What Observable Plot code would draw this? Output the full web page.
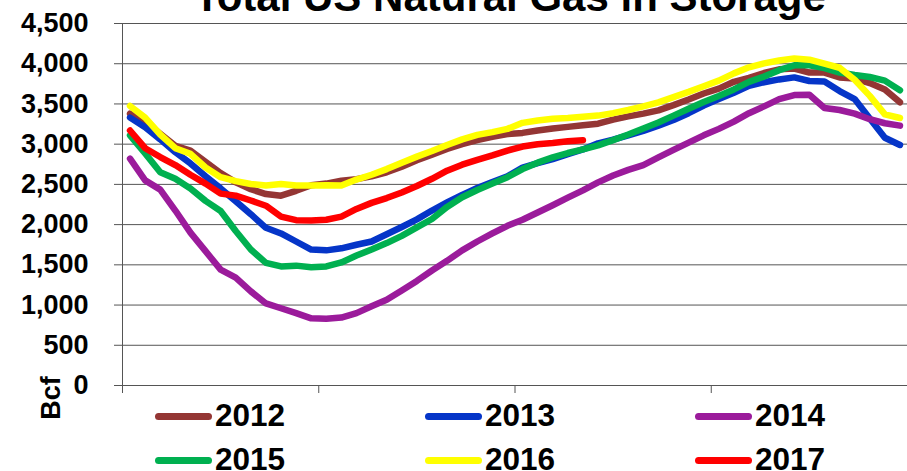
<!DOCTYPE html>
<html><head><meta charset="utf-8">
<script src="https://cdn.jsdelivr.net/npm/d3@7"></script>
<script src="https://cdn.jsdelivr.net/npm/@observablehq/plot@0.6"></script>
<style>
body{margin:0;background:#fff;font-family:"Liberation Sans",Arial,sans-serif;}
#wrap{position:relative;width:907px;height:471px;overflow:hidden;background:#fff;}
#chart{position:absolute;left:0;top:0;}
#title{position:absolute;left:0;width:1020px;top:-23.6px;text-align:center;font-weight:bold;font-size:42px;line-height:42px;white-space:nowrap;z-index:2;color:#000;}
#ylab{position:absolute;left:51px;top:398px;transform:translate(-50%,-50%) rotate(-90deg);font-weight:bold;font-size:27px;line-height:27px;white-space:nowrap;color:#000;}
.sw{position:absolute;width:57px;height:7px;border-radius:4px;}
.lt{position:absolute;font-weight:bold;font-size:31.5px;line-height:31.5px;white-space:nowrap;color:#000;}
</style>
</head><body>
<div id="wrap">
  <div id="chart"></div>
  <div id="title">Total US Natural Gas in Storage</div>
  <div id="ylab">Bcf</div>
  <div id="legend"></div>
</div>
<script>
// Series names and colors
const years = ["2012", "2013", "2014", "2015", "2016", "2017"];
const colors = ["#943634", "#0535C8", "#9B1B9B", "#00B050", "#FFFF00", "#FF0000"];

// Weekly storage values (Bcf)
const s2012 = [3380,3280,3130,2980,2920,2780,2640,2525,2440,2380,2360,2420,2490,2510,2545,2565,2600,2650,2720,2800,2870,2940,3000,3050,3090,3125,3140,3170,3195,3215,3235,3255,3305,3345,3380,3420,3485,3555,3630,3690,3775,3825,3885,3930,3940,3890,3890,3830,3815,3760,3680,3520];
const s2013 = [3330,3210,3060,2900,2760,2600,2450,2290,2130,1960,1890,1790,1690,1680,1705,1750,1790,1880,1970,2065,2175,2275,2370,2455,2530,2600,2710,2765,2815,2875,2935,3010,3055,3110,3165,3230,3300,3385,3480,3560,3640,3725,3770,3805,3830,3785,3780,3660,3560,3320,3080,2990];
const s2014 = [2820,2550,2435,2175,1900,1670,1440,1340,1170,1020,960,900,835,830,845,900,985,1065,1180,1300,1430,1550,1680,1790,1890,1985,2060,2150,2240,2335,2425,2525,2610,2680,2740,2835,2930,3020,3110,3190,3280,3385,3470,3560,3610,3615,3450,3425,3380,3310,3260,3230];
const s2015 = [3110,2885,2650,2570,2450,2295,2170,1920,1690,1525,1480,1490,1470,1480,1530,1615,1690,1770,1860,1965,2070,2220,2340,2430,2510,2590,2690,2770,2835,2890,2935,2985,3050,3120,3195,3270,3355,3440,3525,3600,3680,3775,3840,3920,3980,3980,3945,3890,3860,3835,3790,3670];
const s2016 = [3475,3330,3120,2950,2880,2710,2590,2540,2505,2485,2505,2485,2485,2490,2485,2560,2620,2690,2770,2845,2915,2990,3060,3115,3150,3190,3265,3295,3315,3325,3340,3355,3385,3425,3470,3520,3585,3650,3720,3790,3880,3955,4005,4040,4065,4050,4000,3950,3800,3600,3370,3325];
const s2017 = [3170,2950,2840,2740,2620,2510,2385,2360,2300,2235,2100,2055,2050,2060,2100,2195,2270,2330,2400,2480,2570,2670,2745,2805,2860,2920,2970,3000,3015,3035,3050];

// Axis ticks
const yTicks = [0, 500, 1000, 1500, 2000, 2500, 3000, 3500, 4000, 4500];
const xTicks = [0.5, 13.5, 26.5, 39.5, 52.5];

const seriesValues = [s2012, s2013, s2014, s2015, s2016, s2017];
const rows = [];
years.forEach((yr, i) => seriesValues[i].forEach((v, k) => rows.push({year: yr, week: k + 1, value: v})));

const axisColor = "#555";
const chart = Plot.plot({
  width: 907, height: 395,
  marginLeft: 122, marginRight: 0, marginTop: 23, marginBottom: 10,
  style: {background: "transparent", fontFamily: "'Liberation Sans', Arial, sans-serif", color: "#000", overflow: "visible"},
  x: {domain: [0.5, 52.5]},
  y: {domain: [0, 4500]},
  color: {domain: years, range: colors},
  marks: [
    Plot.gridY(yTicks, {stroke: axisColor, strokeOpacity: 1, strokeWidth: 1}),
    Plot.axisY(yTicks, {tickSize: 8, tickPadding: 26, tickFormat: d3.format(","), fontSize: 27, fontWeight: "bold", label: null, stroke: axisColor, fill: "#000"}),
    Plot.axisX(xTicks, {tickSize: 8, tickFormat: () => "", label: null, stroke: axisColor}),
    Plot.ruleY([0], {stroke: axisColor}),
    Plot.ruleX([0.5], {stroke: axisColor}),
    Plot.line(rows, {x: "week", y: "value", z: "year", stroke: "year", strokeWidth: 6.5, strokeLinejoin: "round", strokeLinecap: "round"})
  ]
});
document.getElementById("chart").appendChild(chart);

// Legend
const legend = document.getElementById("legend");
const colX = [155, 425, 695];
const rowY = [416, 460];
years.forEach((yr, i) => {
  const cx = colX[i % 3], cy = rowY[Math.floor(i / 3)];
  const sw = document.createElement("div");
  sw.className = "sw";
  sw.style.left = cx + "px";
  sw.style.top = (cy - 3.5) + "px";
  sw.style.background = colors[i];
  legend.appendChild(sw);
  const t = document.createElement("div");
  t.className = "lt";
  t.textContent = yr;
  t.style.left = (cx + 60) + "px";
  t.style.top = (cy + 11 - 26.7) + "px";
  legend.appendChild(t);
});
</script>
</body></html>
